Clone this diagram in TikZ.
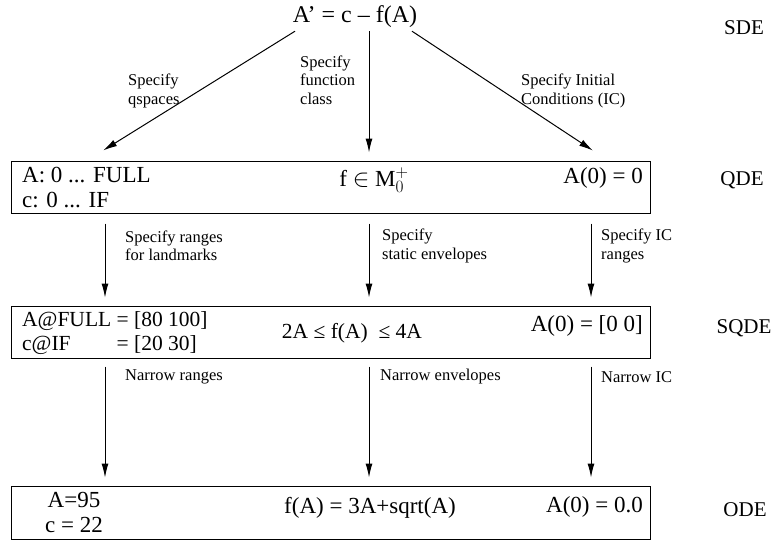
\documentclass[tikz,border=0pt]{standalone}
\usepackage{fontspec}
\setmainfont{Liberation Serif}
\usetikzlibrary{arrows.meta, positioning}

\begin{document}
\begin{tikzpicture}[x=1pt, y=-1pt,
                    eqbox/.style={draw=black, line width=1pt, minimum width=639pt, minimum height=52pt, inner sep=0pt},
                    eq/.style={font=\fontsize{23}{25}\selectfont, inner sep=0pt, align=left},
                    lbl/.style={font=\fontsize{16.5}{18.5}\selectfont, inner sep=0pt, align=left, anchor=west},
                    lvl/.style={font=\fontsize{21}{24}\selectfont, inner sep=0pt},
                    arr/.style={-{Latex[length=14pt,width=7pt]}, line width=1pt, shorten >=8pt}
                ]
                    \useasboundingbox (0,0) rectangle (782,541);
                    % top equation
                    \node[eq, font=\fontsize{24}{26}\selectfont, inner sep=3pt] (sde) at (355,17) {A’ = c – f(A)};
                    \node[lvl] (sdeN) at (744,28) {SDE};
                    % the three boxes
                    \node[eqbox] (qde) at (330.5,187) {};
                    \node[eqbox] (sqde) at (330.5,332) {};
                    \node[eqbox, minimum height=53pt] (ode) at (330.5,512.5) {};
                    \node[eq, anchor=west] (qdeL) at (22,188) {A: 0 ... FULL\\c: 0 ... IF};
                    \node[eq] (qdeC) at (374,180) {f $\in$ M$_0^{\mathbf{+}}$};
                    \node[eq, anchor=east] (qdeR) at (643,178) {A(0) = 0};
                    \node[lvl] (qdeN) at (742,180) {QDE};
                    \node[eq, anchor=west, font=\fontsize{21.5}{24}\selectfont] (sqdeL) at (22,334) {\begin{tabular}{@{}l@{ }l@{}}A@FULL & = [80 100]\\c@IF & = [20 30]\end{tabular}};
                    \node[eq, font=\fontsize{21.5}{24}\selectfont] (sqdeC) at (352,333) {2A ≤ f(A) \ ≤ 4A};
                    \node[eq, anchor=east] (sqdeR) at (643,326) {A(0) = [0 0]};
                    \node[lvl] (sqdeN) at (744,328) {SQDE};
                    \node[eq, align=center] (odeL) at (74,512) {A=95\\c = 22};
                    \node[eq] (odeC) at (370,508) {f(A) = 3A+sqrt(A)};
                    \node[eq, anchor=east] (odeR) at (643,507) {A(0) = 0.0};
                    \node[lvl] (odeN) at (745,510) {ODE};
                    % arrow columns
                    \coordinate (tl) at (295,0);
                    \coordinate (tr) at (412,0);
                    \coordinate (el) at (87,0);
                    \coordinate (er) at (608,0);
                    \coordinate (c1) at (105,0);
                    \coordinate (c2) at (369,0);
                    \coordinate (c3) at (591,0);
                    \draw[arr, shorten >=19pt] (sde.south -| tl) -- (qde.north -| el);
                    \draw[arr] (sde.south -| c2) -- (qde.north -| c2);
                    \draw[arr, shorten >=18pt] (sde.south -| tr) -- (qde.north -| er);
                    \foreach \c in {c1,c2,c3}{
                        \draw[arr, shorten <=10pt] (qde.south -| \c) -- (sqde.north -| \c);
                        \draw[arr, shorten <=8pt] (sqde.south -| \c) -- (ode.north -| \c);
                    }
                    % labels
                    \node[lbl] (sq) at (128,91) {Specify\\qspaces};
                    \node[lbl] (sf) at (300,80) {Specify\\function\\class};
                    \node[lbl] (si) at (521,91) {Specify Initial\\Conditions (IC)};
                    \node[lbl] (sr) at (125,246) {Specify ranges\\for landmarks};
                    \node[lbl] (se) at (382,246) {Specify\\static envelopes};
                    \node[lbl] (sc) at (601,246) {Specify IC\\ranges};
                    \node[lbl] (nr) at (125,377) {Narrow ranges};
                    \node[lbl] (ne) at (380,377) {Narrow envelopes};
                    \node[lbl] (nc) at (601,377) {Narrow IC};
                \end{tikzpicture}
\end{document}
